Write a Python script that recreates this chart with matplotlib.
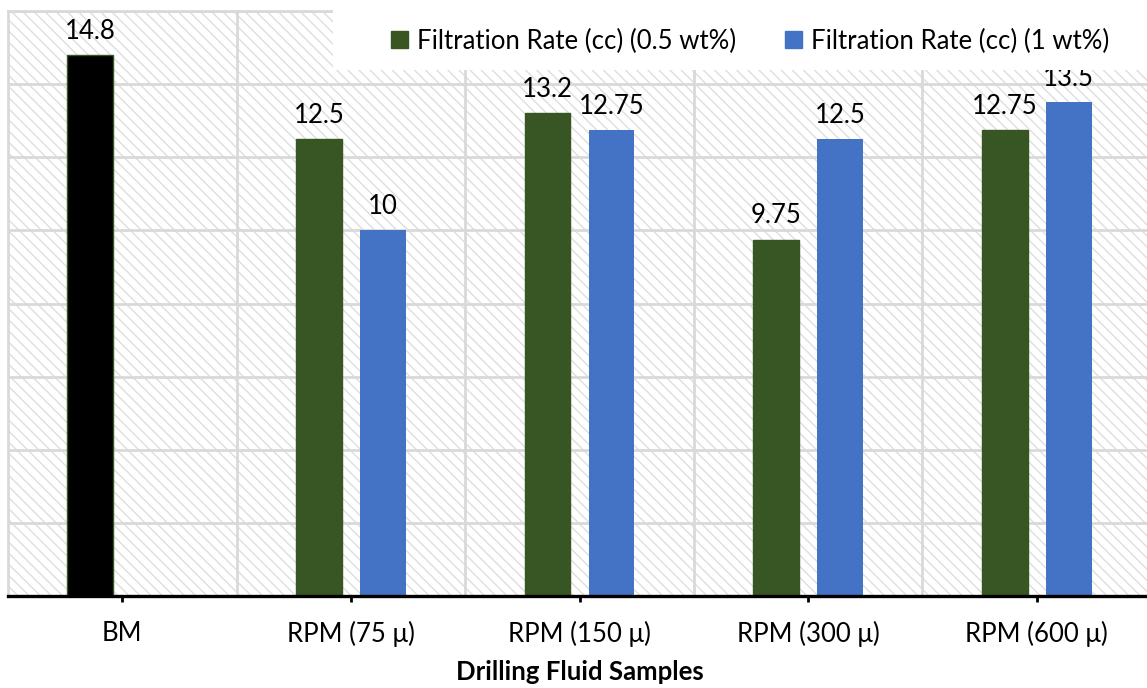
import matplotlib
matplotlib.use("Agg")
import matplotlib.pyplot as plt
from matplotlib.patches import Rectangle
import numpy as np

categories = ["BM", "RPM (75 \u03bc)", "RPM (150 \u03bc)", "RPM (300 \u03bc)", "RPM (600 \u03bc)"]
rate_05 = [14.8, 12.5, 13.2, 9.75, 12.75]
rate_1 = [None, 10, 12.75, 12.5, 13.5]
labels_05 = ["14.8", "12.5", "13.2", "9.75", "12.75"]
labels_1 = ["", "10", "12.75", "12.5", "13.5"]

GREEN = "#375623"
BLUE = "#4472C4"
BLACK = "#000000"
GRID = "#d9d9d9"
HATCH = "#dedede"
FS = 18.5

plt.rcParams["font.family"] = ["Lato", "DejaVu Sans"]
plt.rcParams["hatch.linewidth"] = 1.0
plt.rcParams["hatch.color"] = HATCH

W, H = 1147, 688
fig = plt.figure(figsize=(W / 100, H / 100), dpi=100)
ax = fig.add_axes([8 / W, 1 - 596 / H, (1151 - 8) / W, (596 - 11) / H])

# hatched background
ax.add_patch(Rectangle((0, 0), 1, 1, transform=ax.transAxes, facecolor="white",
                       edgecolor=HATCH, hatch="\\\\\\", linewidth=0, zorder=0))

x = np.arange(len(categories))
width = 0.2
off = 0.14

colors_05 = [BLACK] + [GREEN] * (len(categories) - 1)
ax.bar(x - off, rate_05, width, color=colors_05, edgecolor=GREEN, linewidth=1.0, zorder=3)
x1 = [xi + off for xi, v in zip(x, rate_1) if v is not None]
v1 = [v for v in rate_1 if v is not None]
ax.bar(x1, v1, width, color=BLUE, zorder=3)

for xi, v, lab in zip(x - off, rate_05, labels_05):
    ax.annotate(lab, (xi, v), xytext=(0, 8), textcoords="offset points",
                ha="center", va="bottom", fontsize=FS, zorder=4)
for xi, v, lab in zip(x + off, rate_1, labels_1):
    if v is None:
        continue
    ax.annotate(lab, (xi, v), xytext=(0, 8), textcoords="offset points",
                ha="center", va="bottom", fontsize=FS, zorder=4)

ax.set_xlim(-0.5, 4.5)
ax.set_ylim(0, 16)
ax.set_yticks(np.arange(0, 17, 2))
ax.set_xticks(x)
ax.set_xticklabels(categories, fontsize=FS)
ax.set_xticks(np.arange(0.5, 4.6, 1), minor=True)
ax.tick_params(axis="y", left=False, labelleft=False)
ax.tick_params(axis="x", which="major", length=4, width=2, color="black", pad=14)
ax.tick_params(axis="x", which="minor", length=0)
ax.grid(axis="y", which="major", color=GRID, linewidth=2, zorder=1)
ax.grid(axis="x", which="minor", color=GRID, linewidth=2, zorder=1)
ax.set_axisbelow(True)

for side in ("left", "top", "right"):
    ax.spines[side].set_color(GRID)
    ax.spines[side].set_linewidth(2)
ax.spines["bottom"].set_color("black")
ax.spines["bottom"].set_linewidth(2.4)
ax.spines["bottom"].set_zorder(5)

ax.set_xlabel("Drilling Fluid Samples", fontsize=FS, fontweight="bold", labelpad=9)

# white legend box over the top of the plot
box = Rectangle((333 / W, 1 - 70 / H), 1 - 333 / W, 70 / H, transform=fig.transFigure,
                facecolor="white", edgecolor="none", zorder=2)
fig.add_artist(box)

handles = [Rectangle((0, 0), 1, 1, color=GREEN), Rectangle((0, 0), 1, 1, color=BLUE)]
fig.legend(handles, ["Filtration Rate (cc) (0.5 wt%)", "Filtration Rate (cc) (1 wt%)"],
           loc="center", bbox_to_anchor=(750 / W, 1 - 41 / H), ncol=2, frameon=False,
           fontsize=FS, handlelength=0.65, handleheight=0.65, handletextpad=0.35,
           columnspacing=1.9)

fig.savefig("out.png", dpi=100)
